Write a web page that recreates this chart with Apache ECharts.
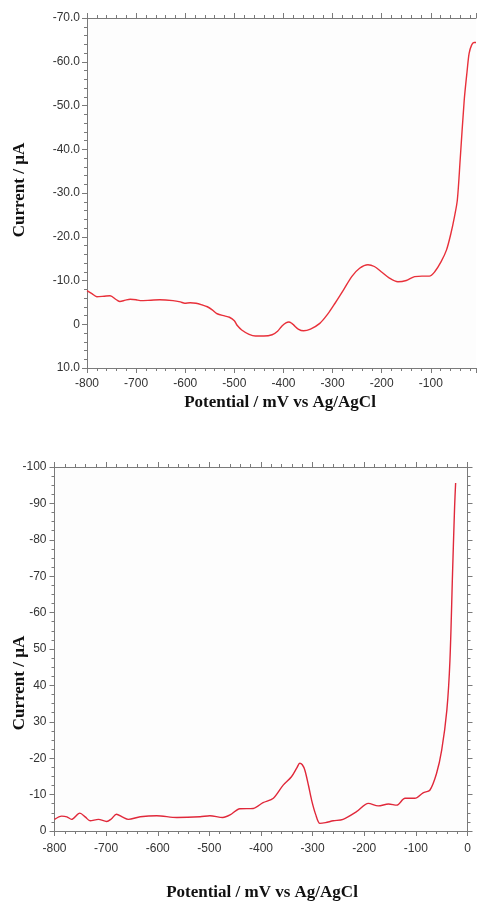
<!DOCTYPE html>
<html>
<head>
<meta charset="utf-8">
<script src="https://cdn.jsdelivr.net/npm/echarts@6/dist/echarts.min.js"></script>
<style>
html,body{margin:0;padding:0;background:#fff;}
#chart{width:479px;height:903px;}
</style>
</head>
<body>
<div id="chart"></div>
<script>
// ---- Data (top voltammogram) ----
const topPotential = [-800,-790,-780,-765,-753,-740,-733,-722,-712,-700,-692,-670,-652,-625,-610,-601,-590,-578,-565,-555,-545,-535,-520,-510,-500,-494,-485,-470,-457,-440,-423,-412,-403,-395,-389,-383,-379,-370,-359,-345,-326,-310,-295,-278,-261,-245,-228,-215,-201,-185,-167,-150,-133,-118,-103,-92,-79,-68,-59,-52,-46,-40,-32,-26,-22,-17,-12,-8];
const topCurrent = [-7.7,-7.0,-6.3,-6.4,-6.5,-5.6,-5.2,-5.5,-5.7,-5.6,-5.4,-5.5,-5.6,-5.4,-5.1,-4.8,-4.9,-4.8,-4.4,-4.0,-3.3,-2.4,-1.9,-1.6,-0.8,0.3,1.3,2.3,2.7,2.7,2.4,1.6,0.4,-0.3,-0.5,-0.2,0.2,1.1,1.5,1.1,-0.2,-2.3,-4.8,-7.8,-10.9,-12.8,-13.6,-13.2,-12.0,-10.6,-9.7,-10.0,-10.9,-11.0,-11.0,-12.0,-14.3,-17.0,-20.8,-24.5,-28.4,-38.0,-51.2,-58.0,-61.9,-63.8,-64.4,-64.4];

// ---- Data (bottom voltammogram) ----
const bottomPotential = [-800,-786,-776,-767,-751,-740,-731,-715,-699,-690,-680,-668,-657,-634,-602,-563,-518,-499,-474,-460,-441,-415,-396,-376,-357,-341,-330,-325,-320,-315,-308,-302,-294,-286,-275,-260,-241,-215,-192,-173,-153,-137,-121,-102,-86,-73,-60,-50,-40,-34,-29,-25,-23];
const bottomCurrent = [-3.2,-4.1,-3.9,-3.2,-4.9,-3.8,-2.8,-3.2,-2.6,-3.3,-4.6,-3.8,-3.2,-3.9,-4.2,-3.7,-3.9,-4.2,-3.7,-4.4,-6.1,-6.2,-7.8,-9.0,-12.6,-14.9,-17.5,-18.6,-18.2,-16.7,-12.5,-8.5,-4.5,-2.1,-2.3,-2.8,-3.2,-5.3,-7.6,-6.9,-7.4,-7.1,-9.0,-9.0,-10.5,-11.2,-15.8,-22.2,-33.2,-46.9,-70.7,-89.0,-95.6];

// ---- Tick labels ----
const xTicks = [-800,-700,-600,-500,-400,-300,-200,-100,0];
const xLabels = ['-800','-700','-600','-500','-400','-300','-200','-100','0'];
const topYTicks = [-70,-60,-50,-40,-30,-20,-10,0,10];
const topYLabels = ['-70.0','-60.0','-50.0','-40.0','-30.0','-20.0','-10.0','0','10.0'];
const bottomYTicks = [-100,-90,-80,-70,-60,-50,-40,-30,-20,-10,0];
const bottomYLabels = ['-100','-90','-80','-70','-60','50','40','30','-20','-10','0'];

const xTitle = 'Potential / mV vs Ag/AgCl';
const yTitle = 'Current / µA';

function lookup(ticks, labels){
  return function(v){
    for (let i=0;i<ticks.length;i++){ if (Math.abs(ticks[i]-v) < 1e-6) return labels[i]; }
    return '';
  };
}
function zip(a,b){ return a.map((v,i)=>[v,b[i]]); }

const axisCol = '#7a7a7a';
const labelStyle = {color:'#333', fontFamily:'Liberation Sans, Arial, sans-serif', fontSize:12};

function xAx(grid, pos, show, margin, max){
  return {
    type:'value', gridIndex:grid, position:pos, min:-800, max:max, interval:100,
    axisLine:{show:true, onZero:false, lineStyle:{color:axisCol, width:1}},
    axisTick:{show:true, length:5, lineStyle:{color:axisCol}},
    minorTick:{show:true, splitNumber:5, length:3, lineStyle:{color:axisCol}},
    splitLine:{show:false},
    axisLabel:{show:show, margin:margin, formatter:lookup(xTicks,xLabels), ...labelStyle}
  };
}
function yAx(grid, pos, show, min, max, ticks, labels, minorN, margin, visible){
  return {
    type:'value', gridIndex:grid, position:pos, min:min, max:max, interval:10, inverse:true, show:visible,
    axisLine:{show:true, onZero:false, lineStyle:{color:axisCol, width:1}},
    axisTick:{show:true, length:5, lineStyle:{color:axisCol}},
    minorTick:{show:true, splitNumber:minorN, length:3, lineStyle:{color:axisCol}},
    splitLine:{show:false},
    axisLabel:{show:show, margin:margin, formatter:lookup(ticks,labels), ...labelStyle}
  };
}

const titleFont = 'bold 17px "Liberation Serif", "Times New Roman", serif';
function titleText(x,y,text,rot){
  return {type:'text', x:x, y:y, rotation:rot||0, style:{text:text, font:titleFont, fill:'#111', textAlign:'center', textVerticalAlign:'middle'}};
}

const chart = echarts.init(document.getElementById('chart'), null, {renderer:'canvas'});
chart.setOption({
  animation:false,
  backgroundColor:'#ffffff',
  grid:[
    {left:87, top:18, width:392, height:350, backgroundColor:'#fdfdfd', show:true, borderWidth:0},
    {left:54.5, top:467, width:413, height:364, backgroundColor:'#fdfdfd', show:true, borderWidth:0}
  ],
  xAxis:[
    xAx(0,'bottom',true,10,-8),
    xAx(0,'top',false,8,-8),
    xAx(1,'bottom',true,12,0),
    xAx(1,'top',false,8,0)
  ],
  yAxis:[
    yAx(0,'left',true,-70,10,topYTicks,topYLabels,5,7,true),
    yAx(0,'right',false,-70,10,topYTicks,topYLabels,5,7,false),
    yAx(1,'left',true,-100,0,bottomYTicks,bottomYLabels,4,8,true),
    yAx(1,'right',false,-100,0,bottomYTicks,bottomYLabels,4,8,true)
  ],
  graphic:[
    titleText(20,190,yTitle,Math.PI/2),
    titleText(280,403,xTitle),
    titleText(20,683,yTitle,Math.PI/2),
    titleText(262,893,xTitle)
  ],
  series:[
    {type:'line', xAxisIndex:0, yAxisIndex:0, data:zip(topPotential,topCurrent), smooth:0.3, showSymbol:false,
     lineStyle:{color:'#e8303a', width:1.4}},
    {type:'line', xAxisIndex:2, yAxisIndex:2, data:zip(bottomPotential,bottomCurrent), smooth:0.3, showSymbol:false,
     lineStyle:{color:'#e0283a', width:1.4}}
  ]
});
</script>
</body>
</html>
